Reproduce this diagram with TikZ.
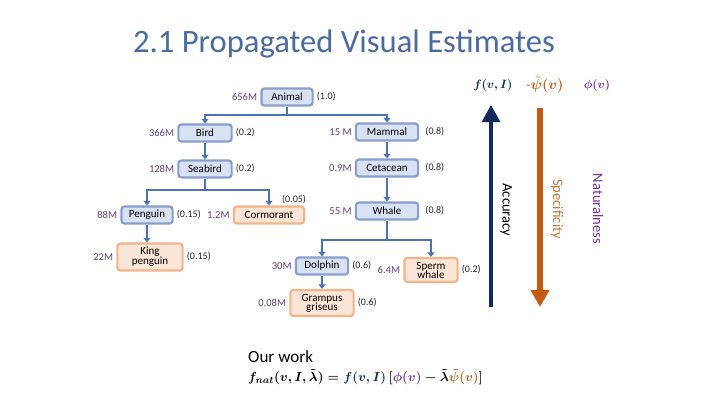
\documentclass[tikz,border=0pt]{standalone}
\usepackage{amsmath,amssymb,bm}
\usepackage{fontspec}
\setmainfont{Carlito}
\usetikzlibrary{arrows.meta,calc}

\definecolor{boxblue}{HTML}{D9E2F3}
\definecolor{edgeblue}{HTML}{8A9DCE}
\definecolor{boxorange}{HTML}{FBE5D6}
\definecolor{edgeorange}{HTML}{F2B488}
\definecolor{linkblue}{HTML}{4D72B3}
\definecolor{cntpurple}{HTML}{5E3F78}
\definecolor{titleblue}{HTML}{4A6AA3}
\definecolor{navyarrow}{HTML}{0F2A5B}
\definecolor{rustarrow}{HTML}{C55A11}
\definecolor{natpurple}{HTML}{7030A0}
\definecolor{spectext}{HTML}{C0783A}

\newcommand{\natformula}{%
  $f_{nat}(v,I,\tilde{\lambda}) = {\color{navyarrow}f(v,I)}\,
  [{\color{natpurple}\phi(v)} - \tilde{\lambda}{\color{rustarrow}\tilde{\psi}(v)}]$}

\begin{document}
\begin{tikzpicture}[x=0.035cm, y=-0.035cm,
  box/.style={draw=edgeblue, fill=boxblue, line width=2.2pt, rounded corners=3pt,
    minimum height=17, inner sep=1pt, align=center,
    font=\fontsize{11}{11}\selectfont},
  obox/.style={box, draw=edgeorange, fill=boxorange},
  cnt/.style={text=cntpurple, font=\fontsize{10.5}{11}\selectfont, inner sep=1pt},
  prob/.style={text=black!85, font=\fontsize{10}{11}\selectfont, inner sep=1pt},
  link/.style={draw=linkblue, line width=1.8pt, -{Triangle[width=7pt,length=4.5pt]}},
  label distance=2pt]
  \useasboundingbox (0,0) rectangle (720,405);

  % titulo
  \node[font=\fontsize{32.5}{38}\selectfont, text=titleblue] (title) at (344,44)
    {2.1 Propagated Visual Estimates};

  % arvore
  \node[box, minimum width=51, label={[cnt]left:656M}, label={[prob]right:(1.0)}]
    (animal) at (287,97) {Animal};
  \node[box, minimum width=53, label={[cnt]left:366M}, label={[prob]right:(0.2)}]
    (bird) at (205,133) {Bird};
  \node[box, minimum width=53, label={[cnt]left:128M}, label={[prob]right:(0.2)}]
    (seabird) at (205,169) {Seabird};
  \node[box, minimum width=51, label={[cnt]left:88M}, label={[prob]right:(0.15)}]
    (penguin) at (147,215) {Penguin};
  \node[obox, minimum width=70, label={[cnt]left:1.2M},
    label={[prob, anchor=south east]north east:(0.05)}]
    (cormorant) at (269,215) {Cormorant};
  \node[obox, minimum width=65, minimum height=27, label={[cnt]left:22M},
    label={[prob]right:(0.15)}]
    (king) at (150,257) {King\\[-1pt]penguin};

  \node[box, minimum width=62, label={[cnt]left:15 M}, label={[prob,xshift=3pt]right:(0.8)}]
    (mammal) at (387,132) {Mammal};
  \node[box, minimum width=62, label={[cnt]left:0.9M}, label={[prob,xshift=3pt]right:(0.8)}]
    (cetacean) at (387,168) {Cetacean};
  \node[box, minimum width=62, label={[cnt]left:55 M}, label={[prob,xshift=3pt]right:(0.8)}]
    (whale) at (387,211) {Whale};
  \node[box, minimum width=52, label={[cnt]left:30M}, label={[prob]right:(0.6)}]
    (dolphin) at (322,266) {Dolphin};
  \node[obox, minimum width=53, minimum height=24, label={[cnt]left:6.4M},
    label={[prob]right:(0.2)}]
    (sperm) at (431,270) {Sperm\\[-2pt]whale};
  \node[obox, minimum width=63, minimum height=26, label={[cnt]left:0.08M},
    label={[prob]right:(0.6)}]
    (grampus) at (322,303) {Grampus\\[-2pt]griseus};

  % ligacoes
  \coordinate (j1) at (287,115);
  \coordinate (j2) at (205,190);
  \coordinate (j3) at (387,240);
  \draw[link] (animal.south) -- (j1) -| (bird.north);
  \draw[link] (j1) -| (mammal.north);
  \draw[link] (bird) -- (seabird);
  \draw[link] (seabird.south) -- (j2) -| (penguin.north);
  \draw[link] (j2) -| (cormorant.north);
  \draw[link] (penguin.south) -- (penguin.south |- king.north);
  \draw[link] (mammal) -- (cetacean);
  \draw[link] (cetacean) -- (whale);
  \draw[link] (whale.south) -- (j3) -| (dolphin.north);
  \draw[link] (j3) -| (sperm.north);
  \draw[link] (dolphin) -- (grampus);

  % setas laterais
  \coordinate (accBot) at (491,307);
  \coordinate (accTop) at (491,105);
  \coordinate (spcTop) at (540,108);
  \coordinate (spcBot) at (540,307);
  \draw[navyarrow, line width=3pt, -{Triangle[width=18pt,length=17pt]}] (accBot) -- (accTop);
  \draw[rustarrow, line width=5.5pt, -{Triangle[width=18pt,length=17pt]}] (spcTop) -- (spcBot);
  \node[rotate=-90, font=\fontsize{14.5}{15}\selectfont, text=black] (acc) at (506,210) {Accuracy};
  \node[rotate=-90, font=\fontsize{14.5}{15}\selectfont, text=spectext] (spc) at (557,209) {Specificity};
  \node[rotate=-90, font=\fontsize{14.5}{15}\selectfont, text=natpurple] (nat) at (598,209) {Naturalness};

  \node[text=navyarrow, font=\fontsize{12.5}{13}\selectfont] (fvi) at (493,85) {$\bm{f(v,I)}$};
  \node[text=rustarrow, font=\fontsize{13.5}{14}\selectfont] (psi) at (545,85) {-$\bm{\tilde{\psi}(v)}$};
  \node[text=natpurple, font=\fontsize{12.5}{13}\selectfont] (phi) at (597,85) {$\bm{\phi(v)}$};

  % formula
  \node[font=\fontsize{17}{18}\selectfont, anchor=west, inner sep=0pt] (ours) at (248,357) {Our work};
  \node[font=\fontsize{12.5}{13}\selectfont\boldmath, anchor=west, inner sep=0pt,
    scale=1.09, transform shape] (fnat) at (248,377) {\natformula};
\end{tikzpicture}
\end{document}
